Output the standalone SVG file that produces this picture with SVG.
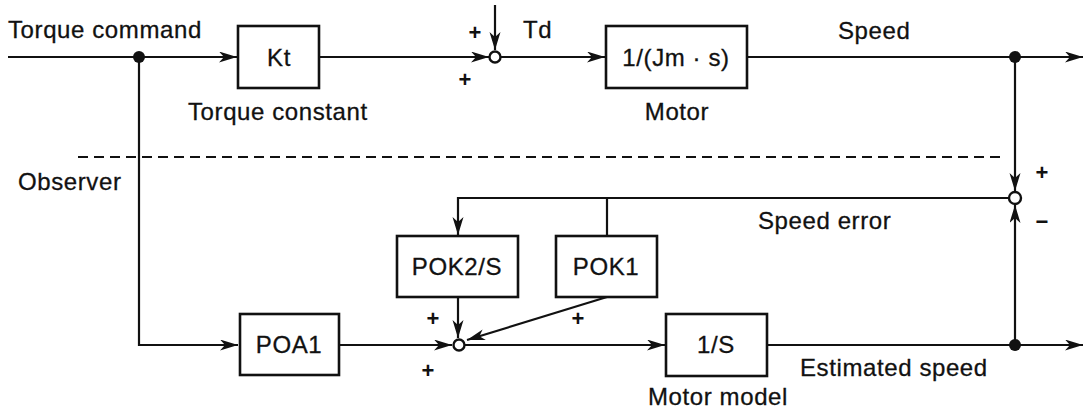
<svg xmlns="http://www.w3.org/2000/svg" width="1088" height="414" viewBox="0 0 1088 414">
<style>
.ln{fill:none;stroke:#111;stroke-width:2.2}
.bx{fill:#fff;stroke:#111;stroke-width:2.6}
.t{font-family:"Liberation Sans",Arial,sans-serif;font-size:24px;letter-spacing:0.6px;fill:#111;stroke:#111;stroke-width:0.3}
.c{text-anchor:middle}
.p{font-family:"Liberation Sans",Arial,sans-serif;font-size:22px;font-weight:bold;fill:#111;text-anchor:middle}
.dot{fill:#111}
.sum{fill:#fff;stroke:#111;stroke-width:2.4}
</style>
<defs>
<marker id="ar" markerUnits="userSpaceOnUse" markerWidth="20" markerHeight="12" refX="18" refY="5.5" orient="auto">
<path d="M0,0 L18,5.5 L0,11 L5,5.5 z" fill="#111"/>
</marker>
</defs>
<rect width="1088" height="414" fill="#fff"/>
<g id="connectors">
<line class="ln" x1="8" y1="57" x2="237" y2="57" marker-end="url(#ar)"/>
<line class="ln" x1="319" y1="57" x2="489" y2="57" marker-end="url(#ar)"/>
<line class="ln" x1="495" y1="5" x2="495" y2="50" marker-end="url(#ar)"/>
<line class="ln" x1="501" y1="57" x2="605" y2="57" marker-end="url(#ar)"/>
<line class="ln" x1="747" y1="57" x2="1083" y2="57" marker-end="url(#ar)"/>
<line class="ln" x1="1015" y1="57" x2="1015" y2="191" marker-end="url(#ar)"/>
<line class="ln" x1="1015" y1="345" x2="1015" y2="205" marker-end="url(#ar)"/>
<path class="ln" d="M1009,198 H458 V235" marker-end="url(#ar)"/>
<line class="ln" x1="607" y1="198" x2="607" y2="236"/>
<path class="ln" d="M139,57 V345 H238" marker-end="url(#ar)"/>
<line class="ln" x1="339" y1="345" x2="452" y2="345" marker-end="url(#ar)"/>
<line class="ln" x1="458" y1="297" x2="458" y2="338" marker-end="url(#ar)"/>
<line class="ln" x1="607" y1="297" x2="467" y2="340" marker-end="url(#ar)"/>
<line class="ln" x1="465" y1="345" x2="665" y2="345" marker-end="url(#ar)"/>
<line class="ln" x1="767" y1="345" x2="1083" y2="345" marker-end="url(#ar)"/>
<line x1="78" y1="157" x2="1005" y2="157" stroke="#111" stroke-width="2" stroke-dasharray="10 6"/>
</g>
<g id="junctions">
<circle class="dot" cx="139" cy="57" r="6"/>
<circle class="dot" cx="1015" cy="57" r="6"/>
<circle class="dot" cx="1015" cy="345" r="6"/>
</g>
<g id="sum1"><circle class="sum" cx="495" cy="57" r="5.5"/>
<text class="p" x="475" y="40">+</text><text class="p" x="465" y="87">+</text>
<text class="t" x="523" y="38">Td</text></g>
<g id="sum2"><circle class="sum" cx="1015" cy="198" r="6"/>
<text class="p" x="1042" y="180">+</text><text class="p" x="1042" y="229">−</text></g>
<g id="sum3"><circle class="sum" cx="459" cy="345" r="5.5"/>
<text class="p" x="433" y="326">+</text><text class="p" x="578" y="326">+</text><text class="p" x="428" y="378">+</text></g>
<g id="kt"><rect class="bx" x="238" y="26" width="81" height="62"/><text class="t c" x="279" y="66">Kt</text>
<text class="t" x="188" y="120">Torque constant</text></g>
<g id="motor"><rect class="bx" x="606" y="26" width="141" height="62"/><text class="t c" x="676" y="66">1/(Jm · s)</text>
<text class="t c" x="677" y="120">Motor</text></g>
<g id="pok2"><rect class="bx" x="397" y="236" width="121" height="61"/><text class="t c" x="457" y="275">POK2/S</text></g>
<g id="pok1"><rect class="bx" x="556" y="236" width="101" height="61"/><text class="t c" x="606" y="275">POK1</text></g>
<g id="poa1"><rect class="bx" x="240" y="314" width="99" height="61"/><text class="t c" x="289" y="353">POA1</text></g>
<g id="model"><rect class="bx" x="666" y="314" width="101" height="62"/><text class="t c" x="716" y="353">1/S</text>
<text class="t" x="648" y="405">Motor model</text></g>
<g id="labels">
<text class="t" x="8" y="38">Torque command</text>
<text class="t" x="838" y="39">Speed</text>
<text class="t" x="18" y="190">Observer</text>
<text class="t" x="758" y="229">Speed error</text>
<text class="t" x="800" y="376">Estimated speed</text>
</g>
</svg>
